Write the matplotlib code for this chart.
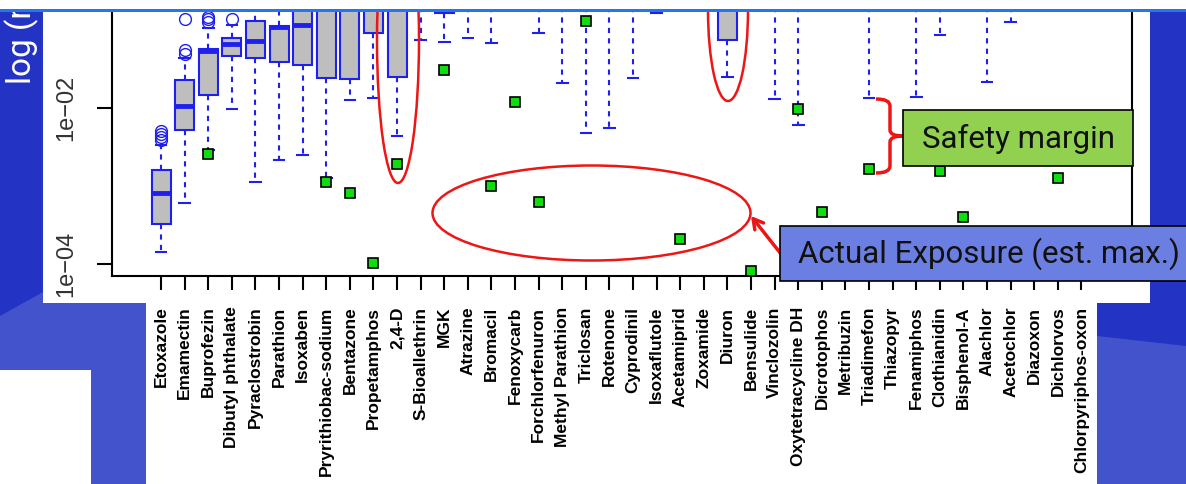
import matplotlib
matplotlib.use("Agg")
import matplotlib.pyplot as plt
import numpy as np
from matplotlib.patches import Rectangle, Ellipse, Polygon, PathPatch, FancyArrowPatch
from matplotlib.path import Path

W, H = 1186, 484

compounds = ["Etoxazole", "Emamectin", "Buprofezin", "Dibutyl phthalate", "Pyraclostrobin",
             "Parathion", "Isoxaben", "Pryrithiobac-sodium", "Bentazone", "Propetamphos",
             "2,4-D", "S-Bioallethrin", "MGK", "Atrazine", "Bromacil", "Fenoxycarb",
             "Forchlorfenuron", "Methyl Parathion", "Triclosan", "Rotenone", "Cyprodinil",
             "Isoxaflutole", "Acetamiprid", "Zoxamide", "Diuron", "Bensulide", "Vinclozolin",
             "Oxytetracycline DH", "Dicrotophos", "Metribuzin", "Triadimefon", "Thiazopyr",
             "Fenamiphos", "Clothianidin", "Bisphenol-A", "Alachlor", "Acetochlor",
             "Diazoxon", "Dichlorvos", "Chlorpyriphos-oxon"]

# box stats as log10 values (anything above ~ -0.77 is cut off at the top)
q1 = [-3.487, -2.282, -1.833, -1.333, -1.363, -1.406, -1.449, -1.619, -1.628, -1.042,
      -1.606, -0.70, -0.788, -0.70, -0.70, -0.60, -0.70, -0.70, -0.70, -0.70,
      -0.70, -0.65, -0.60, -0.60, -1.128, -0.60, -0.70, -0.70, -0.60, -0.60,
      -0.70, -0.60, -0.70, -0.70, -0.60, -0.70, -0.70, -0.60, -0.60, -0.60]
med = [-3.086, -1.974, -1.263, -1.183, -1.141, -0.962, -0.942, -0.72, -0.72, -0.65,
       -0.70, -0.50, -0.50, -0.50, -0.50, -0.40, -0.50, -0.50, -0.50, -0.50,
       -0.50, -0.50, -0.40, -0.40, -0.70, -0.40, -0.50, -0.50, -0.40, -0.40,
       -0.50, -0.40, -0.50, -0.50, -0.40, -0.50, -0.50, -0.40, -0.40, -0.40]
q3 = [-2.795, -1.641, -1.244, -1.099, -0.881, -0.945, -0.65, -0.45, -0.45, -0.40,
      -0.40, -0.30, -0.30, -0.30, -0.30, -0.20, -0.30, -0.30, -0.30, -0.30,
      -0.30, -0.30, -0.20, -0.20, -0.40, -0.20, -0.30, -0.30, -0.20, -0.20,
      -0.30, -0.20, -0.30, -0.30, -0.20, -0.30, -0.30, -0.20, -0.20, -0.20]
whislo = [-3.842, -3.218, -2.538, -2.017, -2.945, -2.667, -2.603, -2.897, -1.897, -1.876,
          -2.359, -1.128, -1.150, -1.099, -1.171, -0.72, -1.042, -1.676, -2.324, -2.260,
          -1.619, -0.782, -0.72, -0.72, -1.599, -0.72, -1.888, -2.218, -0.72, -0.72,
          -1.876, -0.72, -1.855, -1.064, -0.72, -1.663, -0.894, -0.72, -0.72, -0.72]
whishi = [-2.474, -1.359, -0.974, -0.936, -0.50, -0.55, -0.30, -0.10, -0.10, -0.10,
          -0.10, 0.0, 0.0, 0.0, 0.0, 0.0, 0.0, 0.0, 0.0, 0.0,
          0.0, 0.0, 0.0, 0.0, 0.0, 0.0, 0.0, 0.0, 0.0, 0.0,
          0.0, 0.0, 0.0, 0.0, 0.0, 0.0, 0.0, 0.0, 0.0, 0.0]
outliers = {0: [-2.295, -2.333, -2.372, -2.41],
            1: [-1.256, -1.308, -0.859],
            2: [-0.833, -0.865, -0.897],
            3: [-0.863]}

# estimated max exposure (log10), nan = not shown
nan = np.nan
exposure = [nan, nan, -2.59, nan, nan, nan, nan, -2.945, -3.086, -3.991,
            -2.722, nan, -1.513, nan, -3.0, -1.927, -3.209, nan, -0.881, nan,
            nan, nan, -3.683, nan, nan, -4.086, nan, -2.017, -3.329, nan,
            -2.786, nan, nan, -2.808, -3.401, nan, nan, nan, -2.901, nan]

blue = "#2020ee"
dark_blue = "#2333c4"
light_blue = "#4253cc"
red = "#ee1515"

fig = plt.figure(figsize=(W / 100, H / 100), dpi=100)
fig.patch.set_facecolor(light_blue)


def f(x, y):
    return x / W, 1 - y / H


def rect(x0, y0, x1, y1, color, z, ec="none", lw=0):
    r = Rectangle(f(x0, y1), (x1 - x0) / W, (y1 - y0) / H, transform=fig.transFigure,
                  fc=color, ec=ec, lw=lw, zorder=z)
    fig.add_artist(r)


# slide background pieces
fig.add_artist(Polygon([f(0, 12), f(1186, 12), f(1186, 346), f(1097, 336), f(43, 292), f(0, 316)],
                       closed=True, transform=fig.transFigure, fc=dark_blue, ec="none", zorder=-10))
rect(43, 12, 1150, 303, "white", -8)
rect(146, 303, 1097, 484, "white", -8)
rect(0, 370, 91, 484, "white", -8)

ax = fig.add_axes([112 / W, (H - 276) / H, (1132 - 112) / W, (276 - 12) / H])
ax.set_facecolor("none")

n = len(compounds)
stats = []
for i in range(n):
    stats.append(dict(med=10 ** med[i], q1=10 ** q1[i], q3=10 ** q3[i],
                      whislo=10 ** whislo[i], whishi=10 ** whishi[i],
                      fliers=10 ** np.array(outliers.get(i, []))))

pos = np.arange(1, n + 1)
ax.bxp(stats, positions=pos, widths=0.8, capwidths=0.45, patch_artist=True,
       boxprops=dict(facecolor="#bebebe", edgecolor=blue, linewidth=1.5),
       whiskerprops=dict(color=blue, linestyle=(0, (2.5, 2.5)), linewidth=1.5),
       capprops=dict(color=blue, linewidth=1.5),
       medianprops=dict(color=blue, linewidth=3.5, solid_capstyle="butt"),
       flierprops=dict(marker="o", markerfacecolor="none", markeredgecolor=blue,
                       markersize=8.5, markeredgewidth=1.0))

ax.plot(pos, 10 ** np.array(exposure), "s", ms=7.5, mfc="#10dd10", mec="black", mew=1.2,
        zorder=5, linestyle="none")

ax.set_yscale("log")
ax.set_ylim(10 ** -4.154, 10 ** -0.769)
ax.set_xlim(-1.08, 42.14)
ax.set_yticks([1e-4, 1e-2])
ax.set_yticklabels(["1e\u221204", "1e\u221202"])
ax.yaxis.set_minor_locator(matplotlib.ticker.NullLocator())
ax.set_xticks(pos)
ax.set_xticklabels(compounds, rotation=90, fontsize=12.5, fontweight="bold",
                   family="Liberation Sans")
for lab in ax.get_yticklabels():
    lab.set_rotation(90)
    lab.set_va("center")
    lab.set_family("Liberation Sans")
    lab.set_fontsize(17)
    lab.set_color("#333333")
ax.tick_params(axis="y", length=11, width=1.5, pad=14)
ax.tick_params(axis="x", length=10, width=1.5, pad=12)
ax.spines["top"].set_visible(False)
for s in ["left", "bottom", "right"]:
    ax.spines[s].set_linewidth(1.5)

# y label fragment (white, on the blue strip)
fig.text(*f(22, 84), "log (r", rotation=90, ha="center", va="bottom", color="white",
         fontsize=24, family="Roboto", zorder=3)

# red annotation ellipses
for cx, cy, w, h in [(398, 40, 42, 286), (728, 10, 40, 182), (591.5, 213, 318, 95)]:
    fig.add_artist(Ellipse(f(cx, cy), w / W, h / H, transform=fig.transFigure,
                           fill=False, ec=red, lw=1.8, zorder=6))

# arrow from the exposure label to the ellipse
fig.add_artist(FancyArrowPatch(f(781, 254), f(751, 216), transform=fig.transFigure,
                               arrowstyle="->,head_length=7,head_width=4", color=red,
                               lw=2.5, shrinkA=0, shrinkB=0, zorder=6))

# curly brace for the safety margin
verts = [f(876, 99), f(890, 99), f(890, 106), f(890, 130), f(890, 136), f(903, 136),
         f(890, 136), f(890, 142), f(890, 166), f(890, 173), f(876, 173)]
codes = [Path.MOVETO, Path.CURVE3, Path.CURVE3, Path.LINETO, Path.CURVE3, Path.CURVE3,
         Path.CURVE3, Path.CURVE3, Path.LINETO, Path.CURVE3, Path.CURVE3]
fig.add_artist(PathPatch(Path(verts, codes), transform=fig.transFigure, fill=False,
                         ec=red, lw=2.5, zorder=6))

# label boxes
rect(903, 110, 1133, 166, "#92d050", 7, ec="black", lw=1.2)
fig.text(*f(1018, 139), "Safety margin", ha="center", va="center", fontsize=22.5,
         family="Roboto", color="#111111", zorder=8)
rect(780, 226, 1192, 281, "#6b7ee2", 7, ec="black", lw=1.2)
fig.text(*f(989, 254), "Actual Exposure (est. max.)", ha="center", va="center",
         fontsize=22.5, family="Roboto", color="#111111", zorder=8)

# top strip of the slide
rect(0, 0, W, 9, "white", 20)
rect(0, 9, W, 12, "#1f78ef", 21)

fig.savefig("out.png", dpi=100, facecolor=fig.get_facecolor())
